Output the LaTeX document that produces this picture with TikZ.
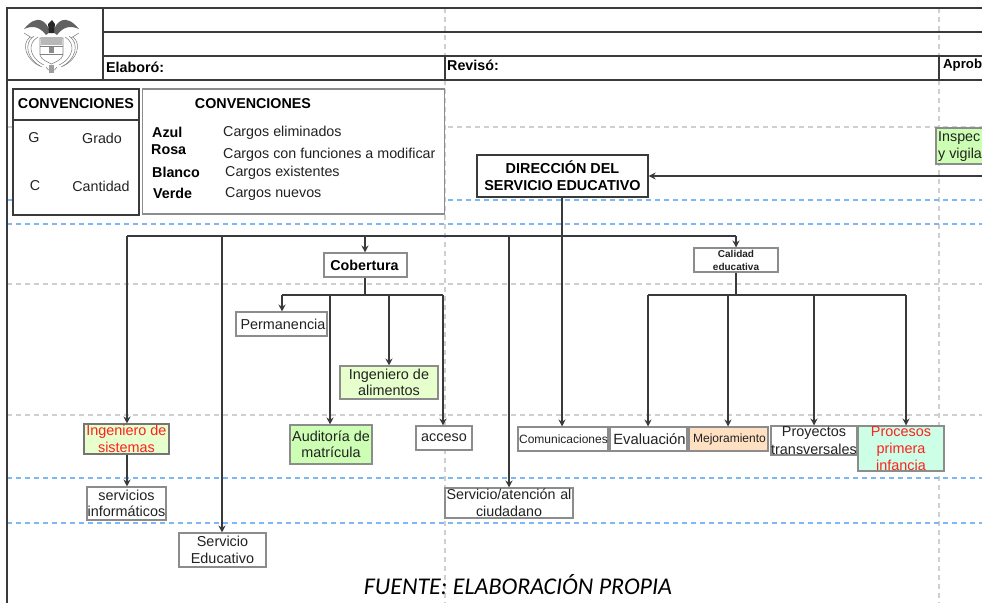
\documentclass[tikz,border=0pt]{standalone}
\usepackage{fontspec}
\setmainfont{Liberation Sans}
\newfontfamily\srcfont{Carlito}
\usetikzlibrary{arrows.meta}
\definecolor{gridg}{HTML}{CFCFCF}
\definecolor{gridb}{HTML}{7DB8F5}
\definecolor{lineK}{HTML}{3A3A3A}
\definecolor{boxg}{HTML}{8C8C8C}
\definecolor{lgreen}{HTML}{E6FFCC}
\definecolor{mgreen}{HTML}{CCFFB3}
\definecolor{mint}{HTML}{CCFFE6}
\definecolor{peach}{HTML}{FFE0C2}
\definecolor{txtd}{HTML}{222222}
\definecolor{redt}{HTML}{FF2020}
\tikzset{
 x=1pt,y=-1pt,
 gridgray/.style={gridg,line width=1.05pt,dash pattern=on 5pt off 4pt},
 gridblue/.style={gridb,line width=1.3pt,dash pattern=on 5pt off 4pt},
 frameline/.style={lineK,line width=1.15pt},
 conn/.style={lineK,line width=1.1pt},
 arr/.style={conn,-{Stealth[length=7pt,width=7pt]}},
 cargo/.style={draw=boxg,line width=1.05pt,fill=white,inner sep=0pt,align=center,text=txtd,
   font=\fontsize{14.4}{16.5}\selectfont},
 hdr/.style={inner sep=0pt,anchor=west,font=\bfseries\fontsize{14.3}{16}\selectfont,text=black},
 plain/.style={inner sep=0pt,text=txtd,font=\fontsize{14.3}{16}\selectfont},
 key/.style={inner sep=0pt,anchor=west,text=black,font=\bfseries\fontsize{14.3}{16}\selectfont},
 desc/.style={inner sep=0pt,anchor=west,text=txtd,font=\fontsize{14.3}{16}\selectfont},
 crest/.style={black!50,line width=.55pt},
}
\newcommand{\cargobox}[7][]{%
 \node[cargo,minimum width={#5pt-#3pt},minimum height={#6pt-#4pt},#1] (#2) at ({(#3+#5)/2},{(#4+#6)/2}) {#7};}
\begin{document}
\begin{tikzpicture}
\useasboundingbox (0,0) rectangle (982,603);
\begin{scope}
\clip (0,0) rectangle (982,603);
% grid
\foreach \yy in {127,284,415} \draw[gridgray] (7,\yy) -- (982,\yy);
\foreach \xx in {445,939} \draw[gridgray] (\xx,8) -- (\xx,603);
\foreach \yy in {200,224,478,523} \draw[gridblue] (7,\yy) -- (982,\yy);
% header frame
\draw[frameline] (982,8) -- (7,8) -- (7,603);
\draw[frameline] (103,32) -- (982,32);
\draw[frameline] (103,56) -- (982,56);
\draw[frameline] (7,80) -- (982,80);
\draw[frameline] (103,8) -- (103,80);
\draw[frameline] (445,56) -- (445,80);
\draw[frameline] (939,56) -- (939,80);
\node[hdr] (elab) at (106,67) {Elaboró:};
\node[hdr] (rev) at (447,65) {Revisó:};
\node[hdr,font=\bfseries\fontsize{13.2}{16}\selectfont] (apr) at (943,65) {Aprob};
% crest
\fill[black!62] (50,32) .. controls (47,22) and (38,12) .. (24,29) .. controls (33,25) and (40,27) .. (46,35) -- cycle;
\fill[black!62] (53,32) .. controls (56,22) and (65,12) .. (79,29) .. controls (70,25) and (63,27) .. (57,35) -- cycle;
\fill[black!85] (49,33) -- (48,24) -- (52,20) -- (55,24) -- (54,33) -- cycle;
\draw[crest] (40,38) -- (63,38) -- (63,55) .. controls (62,60) and (55,62) .. (51.5,64) .. controls (48,62) and (41,60) .. (40,55) -- cycle;
\fill[black!28] (41,37) rectangle (62,45);
\draw[crest] (40,46) -- (63,46);
\draw[crest] (40,54) -- (63,54);
\fill[black!45] (49,47) rectangle (54,53);
\draw[crest] (38,37) .. controls (27,43) and (29,58) .. (44,65);
\draw[crest] (34,36) .. controls (23,43) and (27,60) .. (42,67);
\draw[crest] (30,37) .. controls (21,44) and (26,60) .. (40,66);
\draw[crest] (65,37) .. controls (76,43) and (74,58) .. (59,65);
\draw[crest] (69,36) .. controls (80,43) and (76,60) .. (61,67);
\draw[crest] (73,37) .. controls (82,44) and (77,60) .. (63,66);
\draw[crest] (24,33) -- (32,38);
\draw[crest] (79,33) -- (71,38);
\draw[crest] (46,67) .. controls (48,72) and (55,72) .. (57,67);
\fill[black!38] (49,65) rectangle (54,73);
% conventions 1
\draw[lineK,line width=1.2pt,fill=white] (13,89) rectangle (139,215);
\draw[lineK,line width=1.1pt] (13,120) -- (139,120);
\node[hdr,anchor=center] (ca) at (76,104) {CONVENCIONES};
\node[plain] (g1) at (34,138) {G};
\node[plain] (g2) at (102,138) {Grado};
\node[plain] (c1) at (35,186) {C};
\node[plain] (c2) at (101,186) {Cantidad};
% conventions 2
\draw[boxg,line width=1.05pt,fill=white] (142.5,89) rectangle (444.5,214);
\node[hdr,anchor=center] (cb) at (253,104) {CONVENCIONES};
\node[key] (k1) at (152,132) {Azul};
\node[key] (k2) at (151,150) {Rosa};
\node[key] (k3) at (152,172) {Blanco};
\node[key] (k4) at (153,193) {Verde};
\node[desc] (d1) at (223,133) {Cargos eliminados};
\node[desc] (d2) at (223,155) {Cargos con funciones a modificar};
\node[desc] (d3) at (225,173) {Cargos existentes};
\node[desc] (d4) at (225,194) {Cargos nuevos};
% nodes
\cargobox[draw=lineK,line width=1.25pt,font=\bfseries\fontsize{14.4}{17}\selectfont,text=black]{dir}{477}{155}{648}{197}{DIRECCIÓN DEL\\SERVICIO EDUCATIVO}
\node[draw=boxg,line width=1.05pt,fill=mgreen,inner sep=0pt,minimum width=60pt,minimum height=36pt] (ins) at (966,146) {};
\node[inner sep=0pt,anchor=west,align=left,text=txtd,font=\fontsize{14.3}{17}\selectfont] (instxt) at (938,147) {Inspec\\y vigila};
\cargobox[font=\bfseries\fontsize{14.3}{16}\selectfont,text=black]{cob}{324}{253}{407}{277}{\hspace*{-2pt}Cobertura}
\cargobox[font=\bfseries\fontsize{10}{13}\selectfont]{cal}{694}{248}{778}{272}{Calidad\\educativa}
\cargobox{perm}{236}{312}{327}{336}{\hspace*{3pt}Permanencia}
\cargobox[fill=lgreen]{alim}{340}{366}{438}{399}{Ingeniero de\\alimentos}
\cargobox[fill=lgreen,text=redt,draw=lineK!70]{sist}{84}{424}{169}{454}{Ingeniero de\\sistemas}
\cargobox[fill=mgreen]{aud}{290}{425}{372}{464}{Auditoría de\\matrícula}
\cargobox{acc}{416}{426}{472}{450}{acceso}
\cargobox{info}{87}{487}{166}{520}{servicios\\informáticos}
\cargobox{seduc}{179}{533}{266}{567}{Servicio\\Educativo}
\cargobox[text width=128pt,font=\fontsize{14.3}{17.5}\selectfont]{aten}{445}{488}{573}{518}{Servicio/atención al\\ciudadano}
\cargobox[font=\fontsize{12}{14}\selectfont]{comu}{518}{427}{608}{451}{\hspace*{1pt}Comunicaciones}
\cargobox[font=\fontsize{14.8}{14}\selectfont]{eval}{610}{427}{687}{451}{\hspace*{2pt}Evaluación}
\cargobox[fill=peach,font=\fontsize{12}{14}\selectfont]{mej}{689}{427}{768}{451}{\hspace*{2pt}Mejoramiento}
\cargobox[font=\fontsize{14.4}{17.5}\selectfont]{proy}{771}{426}{857}{455}{Proyectos\\transversales}
\cargobox[fill=mint,text=redt,font=\fontsize{14.4}{17}\selectfont]{proc}{858}{426}{944}{471}{Procesos\\primera\\infancia}
% junctions
\coordinate (rightin) at (982,176);
\coordinate (busL) at (127,236);
\coordinate (busS) at (222,236);
\coordinate (busC) at (365,236);
\coordinate (busA) at (509,236);
\coordinate (busD) at (562,236);
\coordinate (busR) at (736,236);
\coordinate (cL) at (282,295);
\coordinate (cA) at (330,295);
\coordinate (cI) at (389,295);
\coordinate (cR) at (443,295);
\coordinate (cM) at (365,295);
\coordinate (qL) at (648,295);
\coordinate (qM) at (728,295);
\coordinate (qC) at (736,295);
\coordinate (qP) at (814,295);
\coordinate (qR) at (906,295);
% connectors
\draw[arr] (rightin) -- (dir.east |- rightin);
\draw[conn] (busL) -- (busR);
\draw[arr] (busL) -- (busL |- sist.north);
\draw[arr] (busS) -- (busS |- seduc.north);
\draw[arr] (busC) -- (busC |- cob.north);
\draw[arr] (busA) -- (busA |- aten.north);
\draw[arr] (dir.south -| busD) -- (busD |- comu.north);
\draw[arr] (busR) -- (busR |- cal.north);
\draw[conn] (cM |- cob.south) -- (cM);
\draw[conn] (cL) -- (cR);
\draw[arr] (cL) -- (cL |- perm.north);
\draw[arr] (cA) -- (cA |- aud.north);
\draw[arr] (cI) -- (cI |- alim.north);
\draw[arr] (cR) -- (cR |- acc.north);
\draw[conn] (qC |- cal.south) -- (qC);
\draw[conn] (qL) -- (qR);
\draw[arr] (qL) -- (qL |- eval.north);
\draw[arr] (qM) -- (qM |- mej.north);
\draw[arr] (qP) -- (qP |- proy.north);
\draw[arr] (qR) -- (qR |- proc.north);
\draw[arr] (sist.south -| busL) -- (busL |- info.north);
\node[inner sep=0pt,text=black,font=\srcfont\itshape\fontsize{24}{26}\selectfont] (src) at (518,585) {FUENTE: ELABORACIÓN PROPIA};
\end{scope}
\end{tikzpicture}
\end{document}
